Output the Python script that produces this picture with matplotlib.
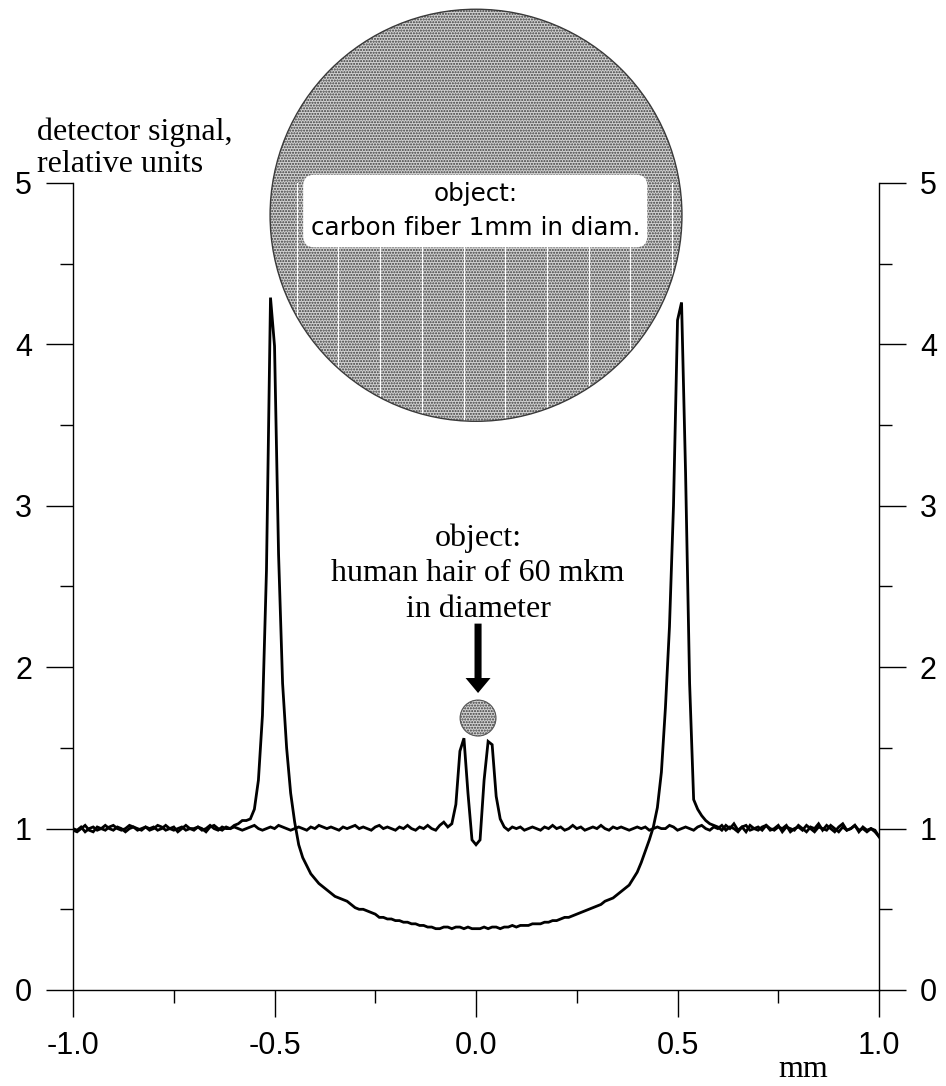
import numpy as np
import matplotlib
matplotlib.use("Agg")
import matplotlib.pyplot as plt
from matplotlib.patches import Ellipse
from matplotlib.ticker import FixedLocator, FixedFormatter, MultipleLocator

# sample positions, mm
x_mm = np.round(np.arange(-1.0, 1.0001, 0.01), 2)

# signal with the human hair (60 mkm) in the beam
hair_signal = [
    1.00, 0.99, 1.01, 0.98, 1.00, 1.01, 0.99, 1.00, 1.02, 1.00, 0.99, 1.01, 1.00, 0.98, 1.00, 1.01, 1.00, 0.99, 1.01, 1.00,
    1.01, 0.99, 1.00, 1.02, 1.00, 0.99, 1.00, 1.01, 0.99, 1.00, 1.00, 1.01, 0.99, 1.00, 1.02, 1.00, 0.99, 1.01, 1.00, 1.00,
    1.01, 1.00, 0.99, 1.00, 1.01, 1.02, 1.00, 0.99, 1.00, 1.01, 1.00, 1.02, 1.01, 1.00, 0.99, 1.00, 1.01, 1.00, 0.99, 1.01,
    1.00, 1.02, 1.01, 1.00, 1.01, 1.00, 0.99, 1.01, 1.00, 1.01, 1.02, 1.00, 1.01, 1.00, 0.99, 1.01, 1.02, 1.00, 1.01, 1.00,
    0.99, 1.01, 1.00, 1.02, 1.00, 0.99, 1.01, 1.00, 1.02, 1.00, 0.99, 1.02, 1.04, 1.01, 1.03, 1.15, 1.48, 1.56, 1.22, 0.93,
    0.90, 0.93, 1.30, 1.54, 1.52, 1.20, 1.06, 1.01, 0.99, 1.01, 1.00, 1.01, 0.99, 1.00, 1.01, 1.00, 0.99, 1.01, 1.00, 1.02,
    1.00, 1.01, 0.99, 1.00, 1.02, 1.00, 1.01, 0.99, 1.00, 1.01, 1.00, 1.02, 1.00, 0.99, 1.01, 1.00, 1.01, 1.00, 0.99, 1.00,
    1.01, 1.00, 1.01, 0.99, 1.00, 1.01, 1.00, 1.00, 1.02, 1.01, 0.99, 1.00, 1.01, 1.00, 0.99, 1.01, 1.02, 1.00, 0.99, 1.01,
    1.00, 1.02, 0.99, 1.01, 1.00, 0.98, 1.01, 1.02, 0.99, 1.00, 1.01, 0.99, 1.02, 1.00, 0.99, 1.01, 1.00, 1.02, 0.98, 1.00,
    1.01, 0.99, 1.02, 1.00, 0.98, 1.01, 1.00, 0.99, 1.02, 1.00, 0.98, 1.01, 0.99, 1.00, 1.02, 0.99, 1.00, 0.98, 1.00, 0.99,
    0.95,
]

# signal with the carbon fiber (1 mm) in the beam
fiber_signal = [
    0.99, 0.98, 1.00, 1.02, 0.99, 0.98, 1.01, 1.00, 0.99, 1.01, 1.02, 1.00, 0.99, 1.00, 1.02, 1.01, 0.99, 1.00, 1.01, 0.99,
    1.00, 1.02, 1.01, 0.99, 1.00, 1.01, 0.98, 1.00, 1.02, 1.00, 0.99, 1.01, 1.00, 0.98, 1.01, 1.02, 1.00, 0.99, 1.01, 1.00,
    1.02, 1.03, 1.05, 1.05, 1.06, 1.12, 1.30, 1.70, 2.60, 4.29, 3.99, 2.70, 1.90, 1.50, 1.22, 1.04, 0.90, 0.82, 0.77, 0.72,
    0.69, 0.66, 0.64, 0.62, 0.60, 0.58, 0.57, 0.56, 0.55, 0.53, 0.51, 0.50, 0.50, 0.49, 0.48, 0.47, 0.45, 0.45, 0.44, 0.44,
    0.43, 0.43, 0.42, 0.42, 0.41, 0.41, 0.40, 0.40, 0.39, 0.39, 0.38, 0.38, 0.39, 0.39, 0.38, 0.39, 0.39, 0.38, 0.39, 0.38,
    0.38, 0.38, 0.39, 0.38, 0.39, 0.39, 0.38, 0.39, 0.39, 0.40, 0.39, 0.40, 0.40, 0.40, 0.41, 0.41, 0.41, 0.42, 0.42, 0.43,
    0.43, 0.44, 0.45, 0.45, 0.46, 0.47, 0.48, 0.49, 0.50, 0.51, 0.52, 0.53, 0.55, 0.56, 0.57, 0.59, 0.61, 0.63, 0.65, 0.69,
    0.73, 0.79, 0.86, 0.93, 1.01, 1.13, 1.35, 1.75, 2.25, 3.00, 4.15, 4.26, 3.20, 1.90, 1.18, 1.12, 1.08, 1.05, 1.03, 1.02,
    1.01, 0.99, 1.02, 1.00, 1.03, 0.99, 1.01, 0.98, 1.02, 1.00, 0.99, 1.01, 1.02, 0.99, 1.00, 1.02, 0.98, 1.01, 1.00, 0.99,
    1.02, 1.00, 0.98, 1.01, 1.00, 1.03, 0.99, 1.02, 1.00, 0.98, 1.01, 1.03, 0.99, 1.00, 1.02, 0.98, 1.01, 0.99, 1.00, 0.98,
    0.95,
]

xticks = [-1.0, -0.5, 0.0, 0.5, 1.0]
xtick_labels = ["-1.0", "-0.5", "0.0", "0.5", "1.0"]
yticks = [0, 1, 2, 3, 4, 5]
ytick_labels = ["0", "1", "2", "3", "4", "5"]

SANS = "Liberation Sans"
SERIF = "Liberation Serif"

fig = plt.figure(figsize=(9.46, 10.86), dpi=100)
ax = fig.add_axes([0.0772, 0.0884, 0.852, 0.7431])

ax.plot(x_mm, fiber_signal, color="black", lw=2.0, solid_joinstyle="miter")
ax.plot(x_mm, hair_signal, color="black", lw=2.0, solid_joinstyle="miter")

ax.set_xlim(-1.0, 1.0)
ax.set_ylim(0, 5)

# axes: no top line, ticks pointing out on both sides
ax.spines["top"].set_visible(False)
for s in ("left", "right", "bottom"):
    ax.spines[s].set_linewidth(1.0)
ax.xaxis.set_major_locator(FixedLocator(xticks))
ax.xaxis.set_major_formatter(FixedFormatter(xtick_labels))
ax.xaxis.set_minor_locator(MultipleLocator(0.25))
ax.yaxis.set_major_locator(FixedLocator(yticks))
ax.yaxis.set_major_formatter(FixedFormatter(ytick_labels))
ax.yaxis.set_minor_locator(MultipleLocator(0.5))
ax.tick_params(which="both", direction="out", width=1.0, colors="black")
ax.tick_params(axis="y", which="both", left=True, right=True,
               labelleft=True, labelright=True)
ax.tick_params(which="major", length=19.5, pad=10, labelsize=22)
ax.tick_params(which="minor", length=9.5)
for lab in ax.get_xticklabels() + ax.get_yticklabels():
    lab.set_fontfamily(SANS)
for t in ax.yaxis.get_major_ticks():
    t.label2.set_fontfamily(SANS)
    t.label2.set_fontsize(22)

# big shaded circle = cross-section of the carbon fiber
fc_xy, fc_w, fc_h = (0.0, 4.80), 1.022, 2.553
fiber = Ellipse(fc_xy, width=fc_w, height=fc_h, facecolor="#d2d2d2",
                edgecolor="#3a3a3a", hatch="......", lw=0, clip_on=False, zorder=1)
ax.add_patch(fiber)
# faint white scan stripes across the shading
for xs in np.arange(-0.445, 0.5, 0.1035):
    ln, = ax.plot([xs, xs], [3.4, 6.2], color="white", lw=0.8, zorder=1.5)
    ln.set_clip_path(fiber)
ax.add_patch(Ellipse(fc_xy, width=fc_w, height=fc_h, fill=False,
                     edgecolor="#3a3a3a", lw=1.0, clip_on=False, zorder=1.6))

# multi-line text with va="baseline" sits on the baseline of its last line
ax.text(-0.002, 4.678, "object:\ncarbon fiber 1mm in diam.", ha="center", va="baseline",
        fontsize=17.7, family="DejaVu Sans", linespacing=1.52, zorder=3, clip_on=False,
        bbox=dict(boxstyle="round,pad=0.3,rounding_size=0.45", fc="white", ec="none"))

# small circle = the hair
hc_xy, hc_w, hc_h = (0.005, 1.685), 0.089, 0.223
ax.add_patch(Ellipse(hc_xy, width=hc_w, height=hc_h, facecolor="#d2d2d2",
                     edgecolor="#3a3a3a", hatch="......", lw=0, zorder=2))
ax.add_patch(Ellipse(hc_xy, width=hc_w, height=hc_h, fill=False,
                     edgecolor="#555555", lw=0.8, zorder=2))

ax.arrow(0.005, 2.27, 0, -0.43, width=0.0175, head_width=0.062, head_length=0.093,
         length_includes_head=True, color="black", lw=0, zorder=3)

ax.text(0.005, 2.311, "object:\nhuman hair of 60 mkm\nin diameter", ha="center",
        va="baseline", fontsize=23, family=SERIF, linespacing=1.3)

fig.text(37 / 946, 1 - 140 / 1086, "detector signal,", ha="left", va="baseline",
         fontsize=23, family=SERIF)
fig.text(37 / 946, 1 - 172 / 1086, "relative units", ha="left", va="baseline",
         fontsize=23, family=SERIF)
fig.text(803 / 946, 1 - 1077 / 1086, "mm", ha="center", va="baseline",
         fontsize=23, family=SERIF)

fig.savefig("out.png", dpi=100, facecolor="white")
